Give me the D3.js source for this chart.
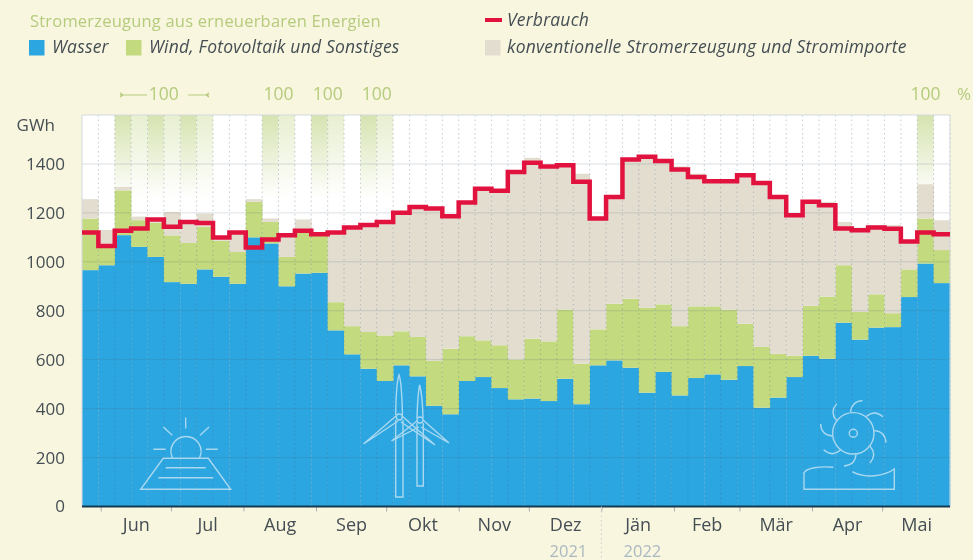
<!DOCTYPE html>
<html>
<head>
<meta charset="utf-8">
<script src="https://cdn.jsdelivr.net/npm/d3@7"></script>
<style>
  html, body { margin: 0; padding: 0; background: #f8f6de; }
  svg { display: block; filter: blur(0.55px); }
  text { font-family: "Open Sans", sans-serif; }
</style>
</head>
<body>
<script>
// weekly values in GWh
const wasser = [966, 986, 1109, 1061, 1020, 917, 910, 969, 939, 910,
  1100, 1075, 900, 952, 955, 720, 622, 563, 513, 577,
  532, 412, 377, 513, 529, 484, 438, 441, 431, 522,
  418, 577, 597, 567, 465, 550, 454, 525, 540, 518,
  574, 404, 445, 529, 616, 604, 751, 682, 731, 733,
  856, 993, 913];
const wind = [211, 79, 183, 109, 140, 191, 167, 174, 147, 130,
  145, 88, 120, 166, 154, 115, 115, 150, 186, 139,
  161, 184, 268, 183, 150, 175, 163, 245, 244, 283,
  166, 147, 232, 282, 347, 276, 283, 293, 278, 286,
  173, 248, 179, 87, 204, 254, 235, 113, 136, 57,
  113, 184, 135];
const konventionell = [79, 65, 14, 15, 15, 96, 88, 54, 19, 80,
  11, 14, 89, 55, 4, 285, 403, 437, 464, 485,
  531, 622, 541, 546, 620, 631, 766, 739, 715, 590,
  776, 453, 436, 569, 617, 586, 653, 542, 511, 525,
  607, 670, 641, 574, 425, 387, 177, 345, 283, 360,
  114, 140, 122];
const verbrauch = [1120, 1065, 1127, 1136, 1173, 1143, 1163, 1159, 1099, 1120,
  1058, 1091, 1109, 1127, 1113, 1120, 1140, 1150, 1163, 1201,
  1224, 1218, 1186, 1242, 1299, 1290, 1367, 1405, 1390, 1395,
  1327, 1177, 1265, 1418, 1429, 1412, 1377, 1347, 1329, 1329,
  1354, 1322, 1265, 1190, 1245, 1231, 1136, 1129, 1140, 1135,
  1083, 1120, 1113];

// weeks with 100 % renewable coverage
const fullStrong = [2, 4, 6, 11, 14, 17, 51];
const fullLight = [3, 5, 7, 12, 15, 18];
const fullLabels = [[2, 8], [11, 13], [14, 16], [17, 19], [51, 52]];

const monthStarts = ['2021-06-01', '2021-07-01', '2021-08-01', '2021-09-01', '2021-10-01', '2021-11-01',
  '2021-12-01', '2022-01-01', '2022-02-01', '2022-03-01', '2022-04-01', '2022-05-01', '2022-05-30'];
const monthLabels = ['Jun', 'Jul', 'Aug', 'Sep', 'Okt', 'Nov', 'Dez', 'Jän', 'Feb', 'Mär', 'Apr', 'Mai'];
const yTicks = [0, 200, 400, 600, 800, 1000, 1200, 1400];

const colors = { wasser: '#2ba6e1', wind: '#c3da7e', konv: '#e3ddd0', red: '#e2123f', label: '#b5cb7d', text: '#454e54' };

const margin = { top: 115, right: 23, bottom: 53.5, left: 82 };
const width = 973 - margin.left - margin.right;
const height = 560 - margin.top - margin.bottom;

const root = d3.select('body').append('svg')
  .attr('width', 973)
  .attr('height', 560);

const svg = root.append('g')
  .attr('transform', `translate(${margin.left}, ${margin.top})`);

const weekStart = i => d3.utcDay.offset(new Date(Date.UTC(2021, 4, 24)), i * 7);

const x = d3.scaleUtc().domain([weekStart(0), weekStart(53)]).range([0, width]);
const y = d3.scaleLinear().domain([0, 1600]).range([height, 0]);

const defs = root.append('defs');
[['fadeStrong', '#d6e3b0'], ['fadeLight', '#e8efd0']].forEach(g => {
  const grad = defs.append('linearGradient')
    .attr('id', g[0])
    .attr('gradientUnits', 'userSpaceOnUse')
    .attr('x1', 0).attr('x2', 0)
    .attr('y1', y(1600)).attr('y2', y(1260));
  grad.append('stop').attr('offset', 0).attr('stop-color', g[1]);
  grad.append('stop').attr('offset', 1).attr('stop-color', '#fff');
});

// plot background
svg.append('rect')
  .attr('width', width)
  .attr('height', height)
  .attr('fill', '#fff');

// green fade columns
const fadeCols = (weeks, id) => svg.append('g').selectAll('rect')
  .data(weeks)
  .enter()
  .append('rect')
  .attr('x', d => x(weekStart(d)))
  .attr('width', d => x(weekStart(d + 1)) - x(weekStart(d)))
  .attr('y', y(1600))
  .attr('height', y(1260) - y(1600))
  .attr('fill', `url(#${id})`);
fadeCols(fullStrong, 'fadeStrong');
fadeCols(fullLight, 'fadeLight');

// stacked bars
const table = wasser.map((d, i) => ({ i: i, wasser: d, wind: wind[i], konv: konventionell[i] }));
const stack = d3.stack().keys(['wasser', 'wind', 'konv'])(table);
const fills = [colors.wasser, colors.wind, colors.konv];

svg.selectAll('.layer')
  .data(stack)
  .enter()
  .append('g')
  .attr('class', 'layer')
  .attr('fill', (d, i) => fills[i])
  .selectAll('rect')
  .data(d => d)
  .enter()
  .append('rect')
  .attr('x', d => x(weekStart(d.data.i)))
  .attr('width', d => x(weekStart(d.data.i + 1)) - x(weekStart(d.data.i)) + 0.3)
  .attr('y', d => y(d[1]))
  .attr('height', d => y(d[0]) - y(d[1]));

// grid on top of the bars
svg.append('g').selectAll('line')
  .data(yTicks.slice(1))
  .enter()
  .append('line')
  .attr('x1', 0)
  .attr('x2', width)
  .attr('y1', d => y(d))
  .attr('y2', d => y(d))
  .attr('stroke', '#4c6378')
  .attr('stroke-opacity', 0.2);

svg.append('g').selectAll('line')
  .data(d3.range(1, 54))
  .enter()
  .append('line')
  .attr('x1', d => x(weekStart(d)))
  .attr('x2', d => x(weekStart(d)))
  .attr('y1', 0)
  .attr('y2', height)
  .attr('stroke', '#4c6378')
  .attr('stroke-opacity', 0.32)
  .attr('stroke-dasharray', '1.5 3');

svg.append('path')
  .attr('d', `M0,${height}V0H${width}V${height}`)
  .attr('fill', 'none')
  .attr('stroke', '#d5dbe0');

// icons in the blue area
const icons = root.append('g')
  .attr('fill', 'none')
  .attr('stroke', '#a9d8f0')
  .attr('stroke-width', 1.4);

const sun = icons.append('g');
sun.append('path').attr('d', 'M140.7,489.3H230.7L208.3,458.3H163.3Z');
sun.append('path').attr('d', 'M165.7,467.7H205.7M158.3,477.7H213.3');
sun.append('path').attr('d', 'M172.5,458A15,15 0 1 1 199.5,458');
sun.append('path').attr('d', 'M185.7,417.5V428.5M163.3,427L172.3,435.3M209,427L200,435.3M153.3,449.3H165.7M205.7,449.3H217.7');

const turbine = icons.append('g');
turbine.append('path').attr('d', 'M395.7,420V497H403V420');
turbine.append('path').attr('d', 'M395.7,415C396,395 397,380 399,375C401,380 402,395 402.5,415');
turbine.append('path').attr('d', 'M396,416L363.5,444L398,421M402,416L435,445L401,422');
turbine.append('circle').attr('cx', 399.3).attr('cy', 417).attr('r', 3);
turbine.append('path').attr('d', 'M417,423V486H423.3V423');
turbine.append('path').attr('d', 'M417,418C417.5,400 418.5,390 419.7,385C421,390 422.5,400 423,418');
turbine.append('path').attr('d', 'M417,421L391.5,441L419,427M423,420L449,443L421,427');
turbine.append('circle').attr('cx', 420).attr('cy', 420).attr('r', 3);

const wheel = icons.append('g').attr('transform', 'translate(853.3, 433.3)');
wheel.append('circle').attr('r', 4);
wheel.append('circle').attr('r', 20.7);
wheel.selectAll('.blade')
  .data(d3.range(8))
  .enter()
  .append('path')
  .attr('class', 'blade')
  .attr('d', 'M-2.7,-21Q-2,-32 9.3,-32.7')
  .attr('transform', d => `rotate(${d * 45})`);
icons.append('path').attr('d', 'M833.3,467.3C820,466 806,468 804,473V489.3H894.3V469C885,476 865,479 852.3,471.7');

// consumption line
const line = d3.line()
  .x(d => x(weekStart(d.i)))
  .y(d => y(d.v))
  .curve(d3.curveStepAfter);

const redPoints = verbrauch.map((v, i) => ({ i: i, v: v }));
redPoints.push({ i: 53, v: verbrauch[52] });

svg.append('path')
  .datum(redPoints)
  .attr('d', line)
  .attr('fill', 'none')
  .attr('stroke', colors.red)
  .attr('stroke-width', 4.5);

// axes
const yAxis = d3.axisLeft(y).tickValues(yTicks).tickFormat(d3.format('d')).tickSize(0).tickPadding(17);
svg.append('g')
  .attr('class', 'y axis')
  .call(yAxis)
  .call(g => g.select('.domain').remove())
  .selectAll('text')
  .attr('font-size', 17)
  .attr('fill', colors.text);

const months = monthStarts.map(d => new Date(d + 'T00:00:00Z'));
const monthMids = monthLabels.map((d, i) => new Date((+months[i] + +months[i + 1]) / 2));

svg.append('g')
  .attr('transform', `translate(0,${height})`)
  .call(d3.axisBottom(x).tickValues(months.slice(0, 12)).tickSize(5).tickFormat(''))
  .call(g => g.select('.domain').remove())
  .selectAll('line')
  .attr('stroke', '#a9aeae');

svg.append('g')
  .attr('transform', `translate(0,${height})`)
  .call(d3.axisBottom(x).tickValues(monthMids).tickSize(0).tickPadding(12).tickFormat((d, i) => monthLabels[i]))
  .call(g => g.select('.domain').remove())
  .selectAll('text')
  .attr('font-size', 18)
  .attr('fill', colors.text);

svg.append('line')
  .attr('x1', 0)
  .attr('x2', width)
  .attr('y1', height)
  .attr('y2', height)
  .attr('stroke', '#143a52')
  .attr('stroke-width', 2);

// year divider
const jan = x(months[7]);
svg.append('line')
  .attr('x1', jan)
  .attr('x2', jan)
  .attr('y1', height)
  .attr('y2', height + 54)
  .attr('stroke', '#c5cfd2')
  .attr('stroke-dasharray', '1.5 3');

[['2021', jan - 33], ['2022', jan + 41]].forEach(d => {
  svg.append('text')
    .attr('x', d[1])
    .attr('y', height + 50)
    .attr('text-anchor', 'middle')
    .attr('font-size', 16.5)
    .attr('fill', '#aab8c2')
    .text(d[0]);
});

svg.append('text')
  .attr('x', 55 - margin.left)
  .attr('y', 130.5 - margin.top)
  .attr('text-anchor', 'end')
  .attr('font-size', 17)
  .attr('fill', colors.text)
  .text('GWh');

// 100 % labels
svg.append('g').selectAll('text')
  .data(fullLabels)
  .enter()
  .append('text')
  .attr('x', d => (x(weekStart(d[0])) + x(weekStart(d[1]))) / 2)
  .attr('y', 100 - margin.top)
  .attr('text-anchor', 'middle')
  .attr('font-size', 17.5)
  .attr('fill', colors.label)
  .text('100');

root.append('path')
  .attr('d', 'M120,95H147M188,95H209M120,93L123,95L120,97M209,93L206,95L209,97')
  .attr('fill', 'none')
  .attr('stroke', colors.label)
  .attr('stroke-width', 1.2);

root.append('text')
  .attr('x', 957)
  .attr('y', 100)
  .attr('font-size', 17)
  .attr('fill', colors.label)
  .text('%');

// legend
root.append('text')
  .attr('x', 30)
  .attr('y', 26.5)
  .attr('font-size', 16.5)
  .attr('letter-spacing', 0.2)
  .attr('fill', colors.label)
  .text('Stromerzeugung aus erneuerbaren Energien');

const legendItems = [
  { label: 'Wasser', color: colors.wasser, x: 29, tx: 52 },
  { label: 'Wind, Fotovoltaik und Sonstiges', color: colors.wind, x: 126, tx: 149 },
  { label: 'konventionelle Stromerzeugung und Stromimporte', color: colors.konv, x: 485, tx: 507 }
];

const legend = root.append('g');
legend.selectAll('rect')
  .data(legendItems)
  .enter()
  .append('rect')
  .attr('x', d => d.x)
  .attr('y', 40)
  .attr('width', 15.5)
  .attr('height', 15.5)
  .attr('fill', d => d.color);

legend.selectAll('text')
  .data(legendItems)
  .enter()
  .append('text')
  .attr('x', d => d.tx)
  .attr('y', 53)
  .attr('font-size', 17.5)
  .attr('letter-spacing', 0.2)
  .attr('font-style', 'italic')
  .attr('fill', colors.text)
  .text(d => d.label);

legend.append('line')
  .attr('x1', 485)
  .attr('x2', 502)
  .attr('y1', 20)
  .attr('y2', 20)
  .attr('stroke', colors.red)
  .attr('stroke-width', 4);

legend.append('text')
  .attr('x', 507)
  .attr('y', 26)
  .attr('font-size', 17.5)
  .attr('letter-spacing', 0.2)
  .attr('font-style', 'italic')
  .attr('fill', colors.text)
  .text('Verbrauch');
</script>
</body>
</html>
